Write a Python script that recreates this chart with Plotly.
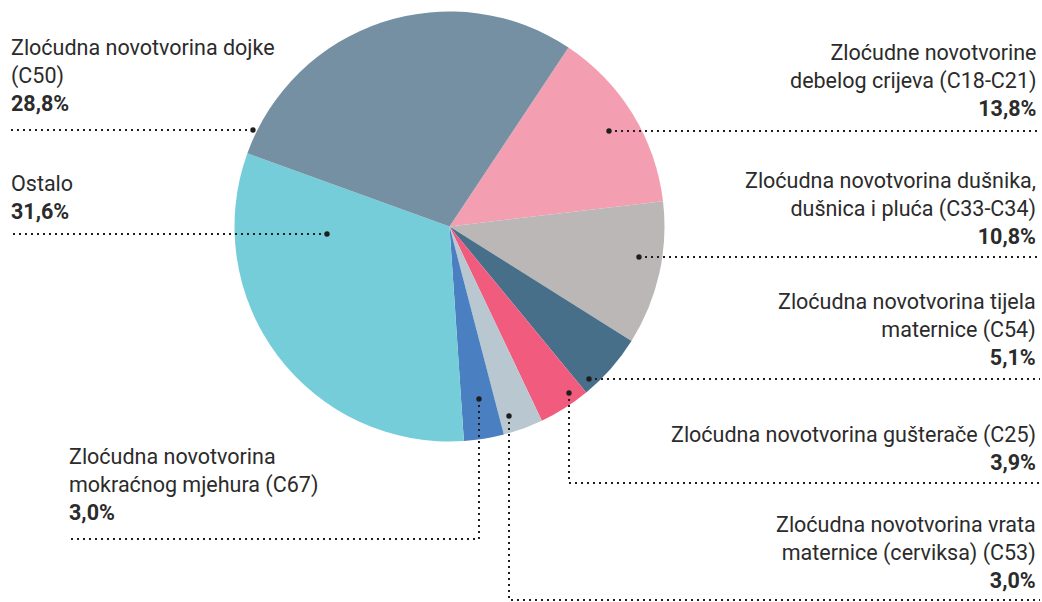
import plotly.graph_objects as go

# ---- data ----
categories = [
    "Zloćudne novotvorine debelog crijeva (C18-C21)",
    "Zloćudna novotvorina dušnika, dušnica i pluća (C33-C34)",
    "Zloćudna novotvorina tijela maternice (C54)",
    "Zloćudna novotvorina gušterače (C25)",
    "Zloćudna novotvorina vrata maternice (cerviksa) (C53)",
    "Zloćudna novotvorina mokraćnog mjehura (C67)",
    "Ostalo",
    "Zloćudna novotvorina dojke (C50)",
]
values = [13.8, 10.8, 5.1, 3.9, 3.0, 3.0, 31.6, 28.8]
colors = ["#f49fb1", "#bbb7b6", "#476f89", "#f15c7e", "#b8c7d0", "#4a80c1", "#75cdd9", "#7490a2"]

label_lines = [
    "Zloćudne novotvorine<br>debelog crijeva (C18-C21)",
    "Zloćudna novotvorina dušnika,<br>dušnica i pluća (C33-C34)",
    "Zloćudna novotvorina tijela<br>maternice (C54)",
    "Zloćudna novotvorina gušterače (C25)",
    "Zloćudna novotvorina vrata<br>maternice (cerviksa) (C53)",
    "Zloćudna novotvorina<br>mokraćnog mjehura (C67)",
    "Ostalo",
    "Zloćudna novotvorina dojke<br>(C50)",
]
pct_text = [f"{v:.1f}%".replace(".", ",") for v in values]

# ---- layout constants (pixels) ----
W, H = 1042, 602
cx, cy, R = 449.5, 226.5, 215

# label anchor: (x, y_middle, xanchor)
label_pos = [
    (1038, 80, "right"),
    (1038, 208, "right"),
    (1038, 329, "right"),
    (1038, 448, "right"),
    (1038, 552, "right"),
    (67, 484, "left"),
    (9, 197, "left"),
    (9, 75, "left"),
]
# leader paths: list of points, first point is the dot inside the slice
leaders = [
    [(609, 131), (1040, 131)],
    [(639, 257), (1040, 257)],
    [(589, 379), (1040, 379)],
    [(569, 393), (569, 483), (1040, 483)],
    [(509, 416), (509, 600), (1040, 600)],
    [(479, 399), (479, 539), (67, 539)],
    [(327, 234), (10, 234)],
    [(253, 130), (10, 130)],
]

fig = go.Figure()
fig.add_trace(go.Pie(
    values=values, labels=categories, marker=dict(colors=colors, line=dict(width=0)),
    sort=False, direction="clockwise", rotation=33.6, textinfo="none",
    hoverinfo="label+percent", showlegend=False,
    domain=dict(x=[(cx - R) / W, (cx + R) / W], y=[(H - cy - R) / H, (H - cy + R) / H]),
))
# invisible trace to keep the cartesian axes
fig.add_trace(go.Scatter(x=[0, W], y=[0, H], mode="markers", marker=dict(opacity=0),
                         hoverinfo="skip", showlegend=False))

shapes = []
for pts in leaders:
    path = "M " + " L ".join(f"{x},{y}" for x, y in pts)
    shapes.append(dict(type="path", path=path, xref="x", yref="y", layer="above",
                       line=dict(color="#1e1e1e", width=2, dash="2px,4px")))
    x0, y0 = pts[0]
    shapes.append(dict(type="circle", xref="x", yref="y", layer="above",
                       x0=x0 - 2.7, x1=x0 + 2.7, y0=y0 - 2.7, y1=y0 + 2.7,
                       fillcolor="#1e1e1e", line=dict(width=0)))

for (x, y, anc), txt, pct in zip(label_pos, label_lines, pct_text):
    fig.add_annotation(x=x, y=y, xref="x", yref="y", xanchor=anc, yanchor="middle",
                       align=anc, showarrow=False,
                       text=f"{txt}<br><b>{pct}</b>",
                       font=dict(family="Roboto", size=21.5, color="#2b2b2b"))

fig.update_layout(
    width=W, height=H, margin=dict(l=0, r=0, t=0, b=0),
    paper_bgcolor="white", plot_bgcolor="rgba(0,0,0,0)",
    xaxis=dict(range=[0, W], visible=False, fixedrange=True),
    yaxis=dict(range=[H, 0], visible=False, fixedrange=True),
    shapes=shapes,
)
fig.write_html("out.html", config={"displayModeBar": False},
               post_script="document.body.style.margin='0';")
